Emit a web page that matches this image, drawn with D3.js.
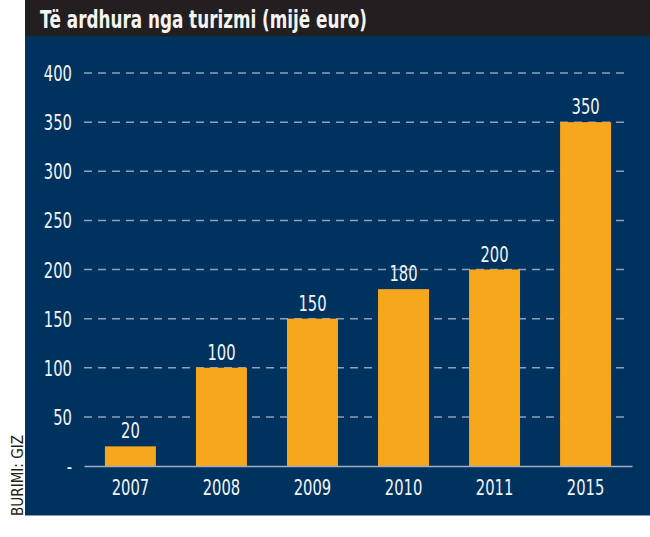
<!DOCTYPE html>
<html>
<head>
<meta charset="utf-8">
<script src="https://cdn.jsdelivr.net/npm/d3@7"></script>
<style>
  body { margin: 0; background: #fff; }
  svg { display: block; }
  .num { font-family: "DejaVu Sans Condensed", sans-serif; font-size: 20.5px; fill: #f2f4f7; }
</style>
</head>
<body>
<div id="chart"></div>
<script>
const years = ['2007', '2008', '2009', '2010', '2011', '2015'];
const revenue = [20, 100, 150, 180, 200, 350];
const yTicks = [0, 50, 100, 150, 200, 250, 300, 350, 400];
const title = 'Të ardhura nga turizmi (mijë euro)';
const source = 'BURIMI: GIZ';

const totalWidth = 650;
const totalHeight = 537;
const narrow = 'scale(0.8, 1)'; // squeeze digits to look like the narrow face
const svg = d3.select('#chart').append('svg')
    .attr('width', totalWidth)
    .attr('height', totalHeight);

// panel + title bar
svg.append('rect')
    .attr('x', 25).attr('y', 0)
    .attr('width', totalWidth - 25).attr('height', 516)
    .attr('fill', '#00325f');
svg.append('rect')
    .attr('x', 25).attr('y', 0)
    .attr('width', totalWidth - 25).attr('height', 36)
    .attr('fill', '#231f20');
svg.append('line')
    .attr('x1', 25).attr('x2', totalWidth)
    .attr('y1', 515.5).attr('y2', 515.5)
    .attr('stroke', '#8b9bb2');

svg.append('text')
    .attr('x', 40)
    .attr('y', 28)
    .attr('textLength', 327)
    .attr('lengthAdjust', 'spacingAndGlyphs')
    .style('font-family', '"DejaVu Sans Condensed", "DejaVu Sans", sans-serif')
    .style('font-weight', 'bold')
    .style('font-size', '25px')
    .style('fill', '#f4f4f4')
    .text(title);

svg.append('text')
    .attr('transform', 'translate(23, 516) rotate(-90)')
    .attr('textLength', 81)
    .attr('lengthAdjust', 'spacingAndGlyphs')
    .style('font-family', '"DejaVu Sans Condensed", sans-serif')
    .style('font-size', '16px')
    .style('fill', '#231f20')
    .text(source);

const left = 84;
const right = 632;

const scaleY = d3.scaleLinear()
    .domain([0, 400])
    .range([466, 73]);
const scaleX = d3.scaleBand()
    .domain(years)
    .range([left, right])
    .paddingInner(0.44)
    .paddingOuter(0.23);

// dashed grid
svg.append('g')
    .selectAll('line')
    .data(yTicks.filter(d => d > 0))
    .enter()
    .append('line')
    .attr('x1', left)
    .attr('x2', 628)
    .attr('y1', d => scaleY(d))
    .attr('y2', d => scaleY(d))
    .attr('stroke', '#8fa0b8')
    .attr('stroke-width', 1.5)
    .attr('stroke-dasharray', '8,6');

// y labels
const yAxis = svg.append('g')
    .attr('transform', `translate(72, 0)`)
    .call(d3.axisLeft(scaleY)
        .tickValues(yTicks)
        .tickSize(0)
        .tickPadding(0)
        .tickFormat(d => d === 0 ? '-' : d));
yAxis.select('.domain').remove();
yAxis.selectAll('text')
    .attr('class', 'num')
    .attr('x', 0)
    .attr('dy', '0.37em')
    .attr('transform', narrow);

// bars
svg.selectAll('.bar')
    .data(years)
    .enter()
    .append('rect')
    .attr('class', 'bar')
    .attr('x', d => scaleX(d))
    .attr('y', (d, i) => scaleY(revenue[i]))
    .attr('width', scaleX.bandwidth())
    .attr('height', (d, i) => scaleY(0) - scaleY(revenue[i]))
    .attr('fill', '#f7a71b');

// value labels
svg.selectAll('.val')
    .data(years)
    .enter()
    .append('g')
    .attr('transform', (d, i) => `translate(${scaleX(d) + scaleX.bandwidth() / 2}, ${scaleY(revenue[i]) - 8})`)
    .append('text')
    .attr('class', 'num')
    .attr('text-anchor', 'middle')
    .attr('transform', narrow)
    .text((d, i) => revenue[i]);

// baseline + x labels
const xAxis = svg.append('g')
    .attr('transform', `translate(0, ${scaleY(0)})`)
    .call(d3.axisBottom(scaleX).tickSize(0).tickPadding(0));
xAxis.select('.domain')
    .attr('stroke', '#a3adbd')
    .attr('stroke-width', 1.5);
xAxis.selectAll('text')
    .attr('class', 'num')
    .attr('y', 29)
    .attr('dy', 0)
    .attr('transform', narrow);
</script>
</body>
</html>
